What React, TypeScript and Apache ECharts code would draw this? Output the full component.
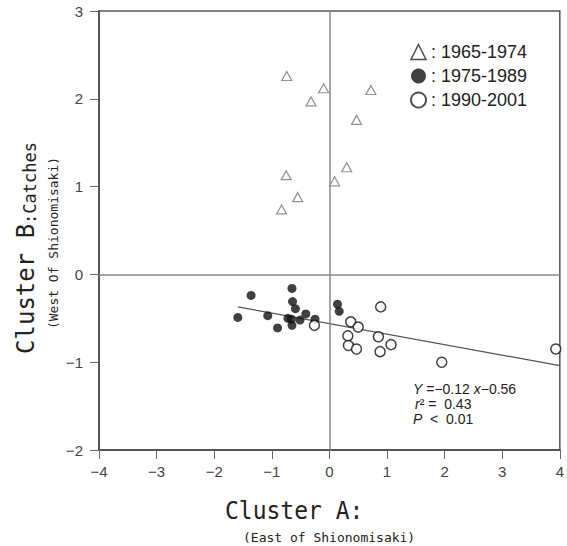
import React, { useEffect, useRef } from "react";
import * as echarts from "echarts";

// 1965-1974 (open triangles)
const triX = [-0.74, -0.10, 0.72, -0.32, 0.47, 0.30, -0.75, 0.09, -0.55, -0.83];
const triY = [2.26, 2.12, 2.10, 1.97, 1.76, 1.22, 1.13, 1.06, 0.88, 0.74];
// 1975-1989 (filled circles)
const filledX = [-1.36, -0.65, -1.59, -1.07, -0.90, -0.64, -0.59, -0.72, -0.66, -0.65, -0.51, -0.41, -0.25, 0.14, 0.17];
const filledY = [-0.24, -0.16, -0.49, -0.47, -0.61, -0.31, -0.39, -0.50, -0.51, -0.58, -0.52, -0.45, -0.51, -0.34, -0.42];
// 1990-2001 (open circles)
const openX = [-0.26, 0.37, 0.50, 0.89, 0.32, 0.33, 0.47, 0.85, 0.88, 1.07, 1.95, 3.93];
const openY = [-0.58, -0.54, -0.60, -0.37, -0.70, -0.81, -0.85, -0.71, -0.88, -0.80, -1.00, -0.85];
// regression Y = -0.12x - 0.56
const slope = -0.12;
const intercept = -0.56;
const fitRange = [-1.59, 4];
const seriesNames = ["1965-1974", "1975-1989", "1990-2001"];
const xTicks = [-4, 4, 1];
const yTicks = [-2, 3, 1];

const mono = "'DejaVu Sans Mono', 'Liberation Mono', monospace";
const sans = "'Liberation Sans', Arial, sans-serif";

const zip = (xs: number[], ys: number[]) => xs.map((x, i) => [x, ys[i]]);

export default function App() {
  const ref = useRef<HTMLDivElement>(null);
  useEffect(() => {
    if (!ref.current) return;
    const chart = echarts.init(ref.current, null, { renderer: "svg" });
    const axisCommon = {
      type: "value" as const,
      axisLine: { show: true, onZero: false, lineStyle: { color: "#555", width: 2 } },
      axisTick: { show: true, length: 9, lineStyle: { color: "#666", width: 1 } },
      splitLine: { show: false },
    };
    const lbl = (margin: number) => ({
      color: "#444",
      fontSize: 15,
      fontFamily: sans,
      margin,
      formatter: (v: number) => String(v).replace("-", "−"),
    });
    const it = (fs: number, italic = false) => ({
      fontSize: fs,
      fontFamily: sans,
      fontStyle: italic ? "italic" : "normal",
      fill: "#222",
      color: "#222",
      lineHeight: 14,
    });
    chart.setOption({
      animation: false,
      backgroundColor: "#fff",
      grid: {
        left: 99,
        right: 4,
        top: 11,
        bottom: 96,
        show: true,
        borderColor: "#555",
        borderWidth: 1.5,
        backgroundColor: "transparent",
      },
      xAxis: { ...axisCommon, min: xTicks[0], max: xTicks[1], interval: xTicks[2], axisLabel: lbl(14) },
      yAxis: { ...axisCommon, min: yTicks[0], max: yTicks[1], interval: yTicks[2], axisLabel: lbl(16) },
      legend: {
        orient: "vertical",
        left: 405,
        top: 38,
        itemWidth: 15,
        itemHeight: 15,
        itemGap: 6,
        selectedMode: false,
        formatter: (n: string) => ": " + n,
        textStyle: { fontSize: 18, color: "#222", fontFamily: sans },
        data: [
          { name: seriesNames[0], icon: "triangle", itemStyle: { color: "#fff", borderColor: "#222", borderWidth: 1.5 } },
          { name: seriesNames[1], icon: "circle", itemStyle: { color: "#111", borderWidth: 0 } },
          { name: seriesNames[2], icon: "circle", itemStyle: { color: "#fff", borderColor: "#222", borderWidth: 2 } },
        ],
      },
      series: [
        {
          name: "fit",
          type: "line",
          data: fitRange.map((x) => [x, slope * x + intercept]),
          symbol: "none",
          lineStyle: { color: "#555", width: 1.2 },
          z: 1,
          markLine: {
            silent: true,
            symbol: ["none", "none"],
            label: { show: false },
            lineStyle: { color: "#888", width: 1.5, type: "solid" },
            data: [{ xAxis: 0 }, { yAxis: 0 }],
          },
        },
        {
          name: seriesNames[0],
          type: "scatter",
          symbol: "triangle",
          symbolSize: [10, 9],
          data: zip(triX, triY),
          itemStyle: { color: "#fff", borderColor: "#777", borderWidth: 1.2 },
          z: 3,
        },
        {
          name: seriesNames[1],
          type: "scatter",
          symbol: "circle",
          symbolSize: 9,
          data: zip(filledX, filledY),
          itemStyle: { color: "#111" },
          z: 3,
        },
        {
          name: seriesNames[2],
          type: "scatter",
          symbol: "circle",
          symbolSize: 10,
          data: zip(openX, openY),
          itemStyle: { color: "#fff", borderColor: "#111", borderWidth: 1.5 },
          z: 4,
        },
      ],
      graphic: [
        {
          type: "text",
          x: 26,
          y: 248,
          rotation: Math.PI / 2,
          style: {
            text: "{a|Cluster B}{b|:Catches}",
            align: "center",
            verticalAlign: "middle",
            fill: "#222",
            rich: {
              a: { fontSize: 24, fontFamily: mono, fill: "#222", verticalAlign: "bottom" },
              b: { fontSize: 17, fontFamily: mono, fill: "#222", verticalAlign: "bottom" },
            },
          },
        },
        {
          type: "text",
          x: 53,
          y: 243,
          rotation: Math.PI / 2,
          style: {
            text: "(West Of Shionomisaki)",
            align: "center",
            verticalAlign: "middle",
            fontSize: 13,
            fontFamily: mono,
            fill: "#222",
          },
        },
        {
          type: "text",
          x: 225,
          y: 511,
          scaleY: 1.1,
          style: {
            text: "Cluster A:",
            align: "left",
            verticalAlign: "middle",
            fontSize: 23,
            fontFamily: mono,
            fill: "#222",
          },
        },
        {
          type: "text",
          x: 243,
          y: 537,
          style: {
            text: "(East of Shionomisaki)",
            align: "left",
            verticalAlign: "middle",
            fontSize: 13,
            fontFamily: mono,
            fill: "#222",
          },
        },
        {
          type: "text",
          x: 413,
          y: 389,
          style: {
            text: "{i|Y}{n| =−0.12 }{i|x}{n|−0.56}",
            verticalAlign: "middle",
            rich: { i: it(14, true), n: it(14) },
          },
        },
        {
          type: "text",
          x: 415,
          y: 404,
          style: {
            text: "{i|r}{n|² =  0.43}",
            verticalAlign: "middle",
            rich: { i: it(14, true), n: it(14) },
          },
        },
        {
          type: "text",
          x: 413,
          y: 419,
          style: {
            text: "{i|P}{n|  <  0.01}",
            verticalAlign: "middle",
            rich: { i: it(14, true), n: it(14) },
          },
        },
      ],
    });
    return () => chart.dispose();
  }, []);
  return (
    <div
      ref={ref}
      style={{ position: "absolute", left: 0, top: 0, width: 567, height: 546 }}
    />
  );
}
